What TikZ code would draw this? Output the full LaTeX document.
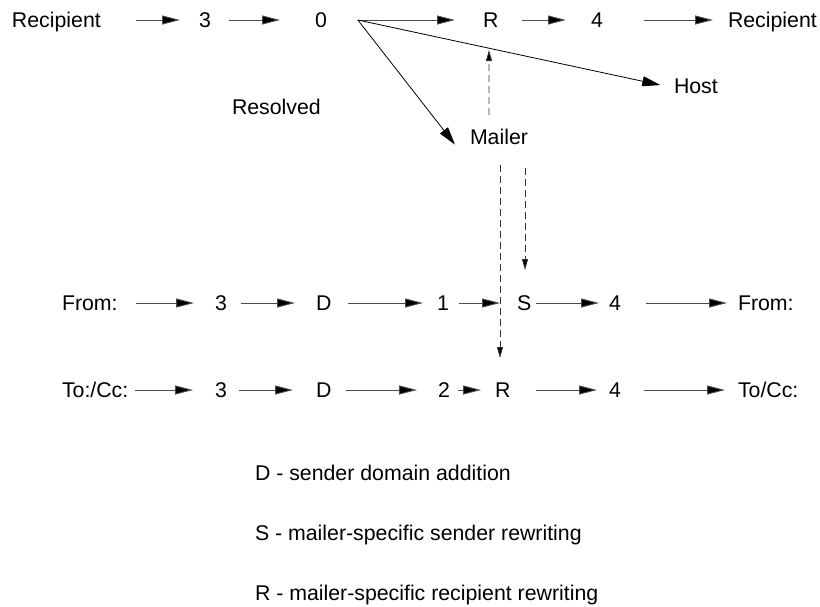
\documentclass[tikz,border=0pt]{standalone}
\usepackage{fontspec}
\setmainfont{Liberation Sans}
\usetikzlibrary{arrows.meta,calc}
\begin{document}
\begin{tikzpicture}[x=1pt,y=-1pt,
  lbl/.style={inner sep=0pt,outer sep=0pt,anchor=west,text height=15.2pt,text depth=0pt,font=\fontsize{21.3}{25}\selectfont},
  arr/.style={draw=black!70,line width=0.9pt,-{Triangle[length=18pt,width=9pt,fill=black]}},
  diag/.style={draw=black,line width=0.8pt,-{Triangle[length=18pt,width=10pt]}},
  dsh/.style={draw=black!80,line width=0.8pt,dash pattern=on 7pt off 4pt,-{Triangle[length=11pt,width=6pt,fill=black]}}]
\useasboundingbox (0,0) rectangle (820,606);
% top row
\node[lbl] (rec1) at (12,20) {Recipient};
\node[lbl] (t3) at (199,20) {3};
\node[lbl] (t0) at (315,20) {0};
\node[lbl] (tR) at (483,20) {R};
\node[lbl] (t4) at (591,20) {4};
\node[lbl] (rec2) at (728,20) {Recipient};
\node[lbl] (host) at (674,86) {Host};
\node[lbl] (mailer) at (470,137) {Mailer};
\node[lbl] (resolved) at (232,107) {Resolved};
\coordinate (split) at ([xshift=31pt]t0.east);
\coordinate (upEnd) at (489,50);
% From row
\node[lbl] (fFrom) at (62,303) {From:};
\node[lbl] (f3) at (215,303) {3};
\node[lbl] (fD) at (316,303) {D};
\node[lbl] (f1) at (437,303) {1};
\node[lbl] (fS) at (517,303) {S};
\node[lbl] (f4) at (609,303) {4};
\node[lbl] (fFrom2) at (738,303) {From:};
% To row
\node[lbl] (tTo) at (62,390) {To:/Cc:};
\node[lbl] (t3b) at (215,390) {3};
\node[lbl] (tD) at (316,390) {D};
\node[lbl] (t2) at (438,390) {2};
\node[lbl] (tR2) at (495,390) {R};
\node[lbl] (t4b) at (609,390) {4};
\node[lbl] (tTo2) at (738,390) {To/Cc:};
% legend
\node[lbl] (legD) at (255,473) {D - sender domain addition};
\node[lbl] (legS) at (255,533) {S - mailer-specific sender rewriting};
\node[lbl] (legR) at (255,593) {R - mailer-specific recipient rewriting};
% top arrows
\draw[arr,shorten <=35pt,shorten >=19pt] (rec1.east) -- (t3.west);
\draw[arr,shorten <=18pt,shorten >=35pt] (t3.east) -- (t0.west);
\draw[arr,shorten >=28pt] (split) -- (tR.west);
\draw[arr,shorten <=24pt,shorten >=25pt] (tR.east) -- (t4.west);
\draw[arr,shorten <=41pt,shorten >=15pt] (t4.east) -- (rec2.west);
\draw[diag,shorten >=14pt] (split) -- ([yshift=-2pt]host.west);
\draw[diag] (split) -- ([xshift=-15pt]mailer.south west);
% From arrows
\draw[arr,shorten <=18pt,shorten >=21pt] (fFrom.east) -- (f3.west);
\draw[arr,shorten <=14pt,shorten >=21pt] (f3.east) -- (fD.west);
\draw[arr,shorten <=17pt,shorten >=14pt] (fD.east) -- (f1.west);
\draw[arr,shorten <=10pt,shorten >=17pt] (f1.east) -- (fS.west);
\draw[arr,shorten <=5pt,shorten >=10pt] (fS.east) -- (f4.west);
\draw[arr,shorten <=25pt,shorten >=11pt] (f4.east) -- (fFrom2.west);
% To arrows
\draw[arr,shorten <=7pt,shorten >=22pt] (tTo.east) -- (t3b.west);
\draw[arr,shorten <=12pt,shorten >=23pt] (t3b.east) -- (tD.west);
\draw[arr,shorten <=15pt,shorten >=21pt] (tD.east) -- (t2.west);
\draw[arr,shorten <=8pt,shorten >=14pt] (t2.east) -- (tR2.west);
\draw[arr,shorten <=26pt,shorten >=12pt] (tR2.east) -- (t4b.west);
\draw[arr,shorten <=23pt,shorten >=13pt] (t4b.east) -- (tTo2.west);
% dashed
\draw[dsh,shorten <=14.4pt] ([xshift=-10pt]mailer.north) -- (upEnd);
\draw[dsh,shorten <=20.4pt,shorten >=24.4pt] ([xshift=1pt]mailer.south) -- ([xshift=1pt]mailer.south |- tR2.north);
\draw[dsh,shorten <=23.4pt,shorten >=25.4pt] ([xshift=26pt]mailer.south) -- ([xshift=26pt]mailer.south |- fS.north);
\end{tikzpicture}
\end{document}
